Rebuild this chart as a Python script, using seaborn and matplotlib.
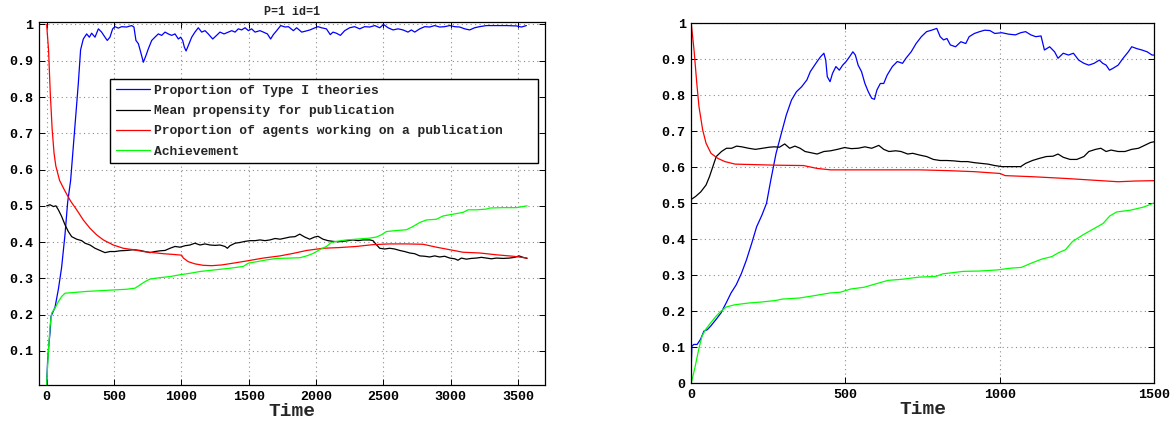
import numpy as np
import pandas as pd
import matplotlib
matplotlib.use("Agg")
import matplotlib.pyplot as plt
import seaborn as sns

# ---------------- data: left panel (P=1 id=1) ----------------
left_blue_t = [0, 7, 17, 25, 32, 62, 87, 111, 136, 156,
               178, 235, 252, 272, 297, 317, 334, 359, 384, 408,
               433, 450, 470, 490, 507, 532, 557, 594, 631, 648,
               663, 681, 698, 718, 738, 755, 780, 804, 829, 854,
               879, 903, 928, 953, 978, 995, 1010, 1022, 1035, 1052,
               1077, 1101, 1126, 1151, 1176, 1200, 1233, 1262, 1287, 1317,
               1349, 1374, 1399, 1423, 1448, 1473, 1498, 1522, 1547, 1584,
               1609, 1639, 1663, 1683, 1708, 1738, 1770, 1795, 1832, 1856,
               1894, 1926, 1955, 1993, 2015, 2040, 2077, 2106, 2126, 2151,
               2181, 2213, 2250, 2287, 2324, 2361, 2399, 2436, 2473, 2502,
               2535, 2572, 2609, 2646, 2683, 2708, 2733, 2770, 2807, 2844,
               2881, 2918, 2955, 2993, 3030, 3067, 3104, 3141, 3178, 3215,
               3265, 3339, 3413, 3488, 3525, 3562]
left_blue_v = [0.009, 0.07, 0.12, 0.15, 0.195, 0.22, 0.27, 0.33, 0.42, 0.51,
               0.57, 0.837, 0.93, 0.96, 0.974, 0.965, 0.976, 0.965, 0.988, 0.979,
               0.965, 0.956, 0.965, 0.988, 0.994, 0.99, 0.994, 0.993, 0.997, 0.993,
               0.956, 0.947, 0.924, 0.896, 0.915, 0.933, 0.956, 0.965, 0.974, 0.97,
               0.979, 0.974, 0.97, 0.974, 0.96, 0.965, 0.956, 0.938, 0.927, 0.942,
               0.965, 0.979, 0.991, 0.979, 0.983, 0.974, 0.96, 0.97, 0.979, 0.974,
               0.979, 0.983, 0.979, 0.988, 0.985, 0.991, 0.983, 0.988, 0.979, 0.983,
               0.979, 0.974, 0.96, 0.972, 0.983, 0.997, 0.993, 0.994, 0.983, 0.991,
               0.979, 0.982, 0.985, 0.991, 0.994, 0.991, 0.988, 0.972, 0.979, 0.976,
               0.97, 0.983, 0.991, 0.994, 0.988, 0.994, 0.993, 0.997, 0.991, 1.0,
               0.991, 0.985, 0.988, 0.985, 0.979, 0.985, 0.979, 0.988, 0.994, 0.993,
               0.997, 0.993, 0.994, 0.997, 0.994, 0.993, 0.988, 0.985, 0.991, 0.994,
               0.997, 0.997, 0.997, 0.996, 0.993, 0.997]

left_black_t = [0, 25, 50, 69, 87, 111, 136, 161, 186, 223,
                260, 285, 322, 359, 396, 433, 470, 507, 545, 594,
                644, 693, 730, 767, 804, 842, 879, 916, 953, 990,
                1027, 1064, 1101, 1139, 1176, 1213, 1250, 1287, 1324, 1342,
                1361, 1399, 1436, 1473, 1510, 1547, 1584, 1621, 1658, 1696,
                1733, 1770, 1807, 1844, 1879, 1916, 1953, 1990, 2015, 2052,
                2089, 2126, 2163, 2200, 2238, 2275, 2312, 2349, 2399, 2423,
                2448, 2473, 2510, 2547, 2584, 2621, 2658, 2696, 2733, 2770,
                2807, 2844, 2881, 2918, 2955, 2993, 3030, 3054, 3079, 3116,
                3153, 3191, 3228, 3265, 3302, 3339, 3389, 3438, 3475, 3507,
                3537, 3567]
left_black_v = [0.50, 0.503, 0.498, 0.50, 0.489, 0.471, 0.448, 0.429, 0.415, 0.408,
                0.404, 0.397, 0.392, 0.383, 0.377, 0.371, 0.374, 0.374, 0.376, 0.377,
                0.379, 0.377, 0.374, 0.371, 0.374, 0.376, 0.377, 0.383, 0.388, 0.386,
                0.39, 0.392, 0.397, 0.392, 0.395, 0.392, 0.391, 0.392, 0.388, 0.383,
                0.39, 0.397, 0.399, 0.402, 0.404, 0.404, 0.406, 0.404, 0.406, 0.41,
                0.408, 0.411, 0.414, 0.415, 0.422, 0.414, 0.408, 0.414, 0.416, 0.408,
                0.404, 0.402, 0.401, 0.402, 0.404, 0.406, 0.404, 0.406, 0.406, 0.404,
                0.393, 0.383, 0.381, 0.383, 0.381, 0.377, 0.374, 0.37, 0.368, 0.362,
                0.361, 0.359, 0.362, 0.359, 0.361, 0.356, 0.354, 0.35, 0.356, 0.353,
                0.355, 0.356, 0.358, 0.356, 0.354, 0.356, 0.355, 0.356, 0.358, 0.362,
                0.358, 0.355]

left_red_t = [0, 14, 27, 41, 55, 68, 96, 137, 178, 223,
              272, 322, 371, 421, 495, 569, 644, 718, 792, 866,
              941, 1002, 1015, 1052, 1101, 1163, 1225, 1300, 1386, 1485,
              1609, 1733, 1832, 1931, 2052, 2176, 2300, 2423, 2547, 2671,
              2795, 2894, 2993, 3092, 3215, 3339, 3463, 3567]
left_red_v = [1.0, 0.93, 0.81, 0.71, 0.645, 0.61, 0.57, 0.54, 0.513, 0.489,
              0.461, 0.438, 0.42, 0.406, 0.392, 0.383, 0.379, 0.374, 0.371, 0.368,
              0.366, 0.364, 0.356, 0.346, 0.34, 0.336, 0.335, 0.337, 0.342, 0.348,
              0.356, 0.362, 0.369, 0.377, 0.383, 0.385, 0.388, 0.393, 0.395, 0.395,
              0.394, 0.386, 0.379, 0.372, 0.37, 0.365, 0.361, 0.356]

left_green_t = [0, 12, 25, 37, 62, 87, 111, 136, 198, 297,
                396, 495, 594, 656, 693, 730, 767, 842, 916, 990,
                1064, 1139, 1213, 1287, 1361, 1460, 1498, 1559, 1634, 1708,
                1807, 1881, 1931, 1980, 2027, 2077, 2114, 2151, 2225, 2300,
                2399, 2448, 2485, 2522, 2597, 2671, 2720, 2770, 2819, 2894,
                2943, 3017, 3092, 3129, 3191, 3265, 3290, 3389, 3488, 3567]
left_green_v = [0.006, 0.094, 0.167, 0.204, 0.218, 0.236, 0.25, 0.259, 0.261, 0.264,
                0.266, 0.268, 0.27, 0.273, 0.282, 0.291, 0.298, 0.302, 0.305, 0.31,
                0.314, 0.319, 0.322, 0.325, 0.328, 0.333, 0.342, 0.346, 0.351, 0.355,
                0.356, 0.357, 0.362, 0.369, 0.379, 0.388, 0.399, 0.402, 0.406, 0.408,
                0.411, 0.414, 0.42, 0.429, 0.432, 0.434, 0.443, 0.454, 0.461, 0.463,
                0.472, 0.477, 0.482, 0.489, 0.489, 0.491, 0.494, 0.495, 0.495, 0.5]

# ---------------- data: right panel ----------------
right_blue_t = [0, 2, 8, 19, 30, 41, 52, 63, 80, 96,
                113, 129, 146, 163, 179, 196, 212, 229, 244, 258,
                275, 292, 308, 325, 341, 358, 375, 386, 397, 408,
                419, 430, 436, 441, 450, 458, 469, 480, 491, 502,
                513, 524, 532, 541, 552, 563, 574, 585, 594, 602,
                613, 624, 635, 652, 668, 685, 696, 713, 729, 746,
                763, 779, 796, 807, 818, 829, 840, 857, 874, 890,
                901, 918, 935, 951, 968, 984, 1007, 1029, 1051, 1068,
                1084, 1101, 1117, 1134, 1145, 1162, 1178, 1189, 1206, 1223,
                1239, 1256, 1273, 1289, 1306, 1323, 1334, 1345, 1356, 1367,
                1384, 1400, 1417, 1428, 1444, 1461, 1478, 1494, 1500]
right_blue_v = [0.048, 0.103, 0.108, 0.108, 0.122, 0.145, 0.149, 0.159, 0.177, 0.195,
                0.223, 0.251, 0.274, 0.306, 0.343, 0.389, 0.435, 0.467, 0.5, 0.565,
                0.639, 0.694, 0.745, 0.787, 0.81, 0.824, 0.843, 0.866, 0.88, 0.894,
                0.907, 0.917, 0.898, 0.852, 0.838, 0.861, 0.88, 0.87, 0.884, 0.894,
                0.907, 0.921, 0.912, 0.884, 0.866, 0.833, 0.81, 0.792, 0.789, 0.815,
                0.833, 0.833, 0.856, 0.88, 0.894, 0.889, 0.903, 0.921, 0.944, 0.963,
                0.977, 0.981, 0.986, 0.963, 0.954, 0.958, 0.94, 0.935, 0.949, 0.944,
                0.963, 0.972, 0.977, 0.981, 0.98, 0.972, 0.974, 0.97, 0.968, 0.974,
                0.977, 0.968, 0.963, 0.965, 0.926, 0.935, 0.921, 0.903, 0.917, 0.912,
                0.917, 0.898, 0.889, 0.884, 0.889, 0.898, 0.889, 0.884, 0.87, 0.875,
                0.884, 0.903, 0.921, 0.935, 0.93, 0.926, 0.921, 0.912, 0.912]

right_black_t = [0, 14, 31, 48, 59, 70, 81, 98, 114, 131,
                 147, 164, 186, 208, 231, 253, 269, 286, 303, 319,
                 336, 353, 369, 386, 408, 430, 452, 474, 497, 519,
                 541, 563, 585, 608, 624, 641, 663, 680, 702, 718,
                 741, 763, 785, 807, 829, 851, 874, 896, 918, 940,
                 962, 984, 1007, 1029, 1051, 1068, 1084, 1106, 1129, 1151,
                 1173, 1189, 1206, 1228, 1250, 1273, 1289, 1311, 1328, 1345,
                 1361, 1384, 1406, 1428, 1450, 1472, 1489, 1500]
right_black_v = [0.511, 0.519, 0.532, 0.551, 0.574, 0.602, 0.63, 0.644, 0.653, 0.653,
                 0.659, 0.657, 0.653, 0.65, 0.653, 0.656, 0.657, 0.656, 0.665, 0.653,
                 0.659, 0.653, 0.644, 0.641, 0.637, 0.644, 0.646, 0.65, 0.655, 0.652,
                 0.653, 0.657, 0.653, 0.661, 0.65, 0.644, 0.646, 0.644, 0.637, 0.639,
                 0.634, 0.63, 0.622, 0.619, 0.619, 0.618, 0.616, 0.616, 0.613, 0.611,
                 0.609, 0.605, 0.602, 0.602, 0.602, 0.602, 0.611, 0.619, 0.625, 0.63,
                 0.631, 0.637, 0.628, 0.622, 0.622, 0.63, 0.644, 0.65, 0.653, 0.644,
                 0.648, 0.644, 0.644, 0.65, 0.653, 0.662, 0.669, 0.671]

right_red_t = [0, 9, 18, 25, 37, 48, 64, 86, 109, 142,
               186, 275, 364, 408, 452, 541, 630, 741, 829, 918,
               1001, 1018, 1106, 1217, 1328, 1384, 1439, 1500]
right_red_v = [1.0, 0.926, 0.833, 0.769, 0.704, 0.667, 0.639, 0.625, 0.616, 0.609,
               0.608, 0.606, 0.605, 0.597, 0.593, 0.593, 0.593, 0.593, 0.591, 0.588,
               0.583, 0.577, 0.574, 0.569, 0.563, 0.56, 0.562, 0.563]

right_green_t = [0, 13, 24, 35, 46, 63, 80, 96, 113, 140,
                 185, 229, 273, 295, 351, 395, 450, 483, 517, 561,
                 605, 638, 683, 738, 793, 815, 882, 937, 992, 1037,
                 1070, 1103, 1136, 1169, 1191, 1213, 1236, 1269, 1302, 1335,
                 1357, 1379, 1424, 1468, 1500]
right_green_v = [0.0, 0.048, 0.094, 0.131, 0.149, 0.168, 0.186, 0.2, 0.212, 0.218,
                 0.223, 0.226, 0.23, 0.234, 0.237, 0.243, 0.251, 0.253, 0.262, 0.267,
                 0.278, 0.286, 0.289, 0.295, 0.297, 0.304, 0.311, 0.312, 0.315, 0.32,
                 0.322, 0.334, 0.345, 0.352, 0.363, 0.371, 0.394, 0.412, 0.428, 0.444,
                 0.465, 0.476, 0.481, 0.49, 0.501]

labels = ["Proportion of Type I theories",
          "Mean propensity for publication",
          "Proportion of agents working on a publication",
          "Achievement"]
colors = ["#0000ff", "#000000", "#ff0000", "#00ff00"]

left_x_ticks = [0, 500, 1000, 1500, 2000, 2500, 3000, 3500]
left_y_ticks = [0.1, 0.2, 0.3, 0.4, 0.5, 0.6, 0.7, 0.8, 0.9, 1.0]
left_y_labels = ["0.1", "0.2", "0.3", "0.4", "0.5", "0.6", "0.7", "0.8", "0.9", "1"]
right_x_ticks = [0, 500, 1000, 1500]
right_y_ticks = [0, 0.1, 0.2, 0.3, 0.4, 0.5, 0.6, 0.7, 0.8, 0.9, 1.0]
right_y_labels = ["0", "0.1", "0.2", "0.3", "0.4", "0.5", "0.6", "0.7", "0.8", "0.9", "1"]

# ---------------- style ----------------
sns.set_style("white")
MONO = ["Liberation Mono", "DejaVu Sans Mono"]
plt.rcParams["font.family"] = MONO
plt.rcParams["font.weight"] = "bold"

fig = plt.figure(figsize=(11.74, 4.21), dpi=100)
axL = fig.add_axes([0.0332, 0.0855, 0.431, 0.8615])
axR = fig.add_axes([0.5888, 0.0895, 0.3941, 0.855])


def draw(ax, series, legend):
    for (t, v), lab, col in zip(series, labels, colors):
        df = pd.DataFrame({"Time": t, "value": v})
        sns.lineplot(data=df, x="Time", y="value", ax=ax, color=col,
                     linewidth=0.9, label=lab if legend else None,
                     legend=False, estimator=None)


def style(ax, xt, yt, ylab):
    ax.set_xticks(xt)
    ax.set_xticklabels([str(x) for x in xt])
    ax.set_yticks(yt)
    ax.set_yticklabels(ylab)
    ax.grid(True, linestyle=(0, (1, 3)), color="0.55", linewidth=0.8)
    for s in ax.spines.values():
        s.set_visible(True)
        s.set_color("black")
        s.set_linewidth(0.9)
    ax.tick_params(axis="both", which="both", direction="in", length=4,
                   width=0.7, top=True, right=True, bottom=True, left=True,
                   labelsize=9.6, pad=4, colors="black")
    for lbl in ax.get_xticklabels() + ax.get_yticklabels():
        lbl.set_fontweight("bold")
        lbl.set_family(MONO)
    ax.set_xlabel("Time", fontsize=14, fontweight="bold", family=MONO, labelpad=0)
    ax.set_ylabel("")


draw(axL, [(left_blue_t, left_blue_v), (left_black_t, left_black_v),
           (left_red_t, left_red_v), (left_green_t, left_green_v)], True)
draw(axR, [(right_blue_t, right_blue_v), (right_black_t, right_black_v),
           (right_red_t, right_red_v), (right_green_t, right_green_v)], False)

axL.set_xlim(-57, 3700)
axL.set_ylim(0.006, 1.006)
axR.set_xlim(0, 1500)
axR.set_ylim(0, 1)

style(axL, left_x_ticks, left_y_ticks, left_y_labels)
style(axR, right_x_ticks, right_y_ticks, right_y_labels)

axL.set_title("P=1 id=1", fontsize=8.5, fontweight="bold", family=MONO, pad=5)

handles, labs = axL.get_legend_handles_labels()
leg = axL.legend(handles, labs, loc="upper left",
                 bbox_to_anchor=(0.14, 0.598, 0.847, 0.246), mode="expand",
                 borderaxespad=0, frameon=True, fancybox=False, shadow=False,
                 handlelength=2.6, handletextpad=0.3, labelspacing=0.62,
                 borderpad=0.45, prop={"family": MONO, "weight": "bold", "size": 9.4})
leg.get_frame().set_edgecolor("black")
leg.get_frame().set_linewidth(1.0)
leg.get_frame().set_alpha(1)

fig.savefig("out.png", dpi=100)
